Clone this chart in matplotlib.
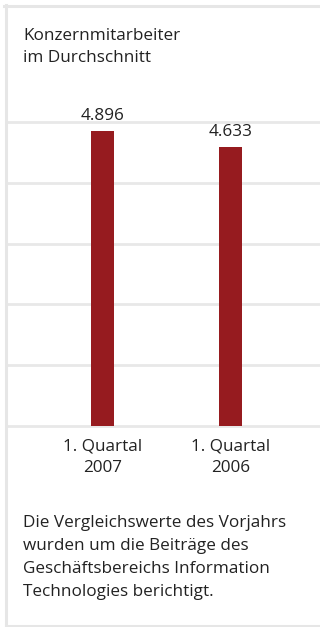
import matplotlib.pyplot as plt
from matplotlib.lines import Line2D

# Data
categories = ["1. Quartal\n2007", "1. Quartal\n2006"]
employees = [4896, 4633]
value_labels = ["4.896", "4.633"]
title = "Konzernmitarbeiter\nim Durchschnitt"
footnote = ("Die Vergleichswerte des Vorjahrs\nwurden um die Beiträge des\n"
            "Geschäftsbereichs Information\nTechnologies berichtigt.")

plt.rcParams['font.family'] = ['Open Sans', 'DejaVu Sans']
txt = '#222222'
fs = 12.3
W, H = 320, 627

fig = plt.figure(figsize=(3.2, 6.27), dpi=100)

# frame (top, left, bottom)
grey = '#e6e6e6'
fig.add_artist(Line2D([4 / W, 1], [1 - 5.5 / H] * 2, color=grey, lw=2.2))
fig.add_artist(Line2D([5.5 / W] * 2, [1 - 5 / H, 1 / H], color=grey, lw=2.2))
fig.add_artist(Line2D([5.5 / W, 1], [1 / H] * 2, color=grey, lw=2.2))

ax = fig.add_axes([7 / W, (H - 426) / H, (W - 7) / W, (426 - 122) / H])
ax.set_ylim(0, 5040)
ax.set_xlim(-0.746, 1.699)
for s in ax.spines.values():
    s.set_visible(False)
ax.set_xticks([])
ax.set_yticks([])
# five even bands of light grid lines
for i in range(6):
    ax.add_line(Line2D([0, 1], [i / 5, i / 5], transform=ax.transAxes,
                       color='#e8e8e8', lw=2, zorder=0, clip_on=False))

x = range(len(categories))
ax.bar(x, employees, width=0.18, color='#961b1f', zorder=2)
for xi, v, lab in zip(x, employees, value_labels):
    ax.annotate(lab, (xi, v), xytext=(0, 5), textcoords='offset points',
                ha='center', va='bottom', fontsize=fs, color=txt)
for xi, c in zip(x, categories):
    ax.annotate(c, (xi, 0), xytext=(0, -9), textcoords='offset points',
                ha='center', va='top', fontsize=fs, color=txt, linespacing=1.42)

fig.text(23 / W, 1 - 28 / H, title, ha='left', va='top', fontsize=fs,
         color=txt, linespacing=1.48)
fig.text(23 / W, 1 - 515 / H, footnote, ha='left', va='top', fontsize=fs,
         color=txt, linespacing=1.58)

fig.savefig('out.png', dpi=100, facecolor='white')
